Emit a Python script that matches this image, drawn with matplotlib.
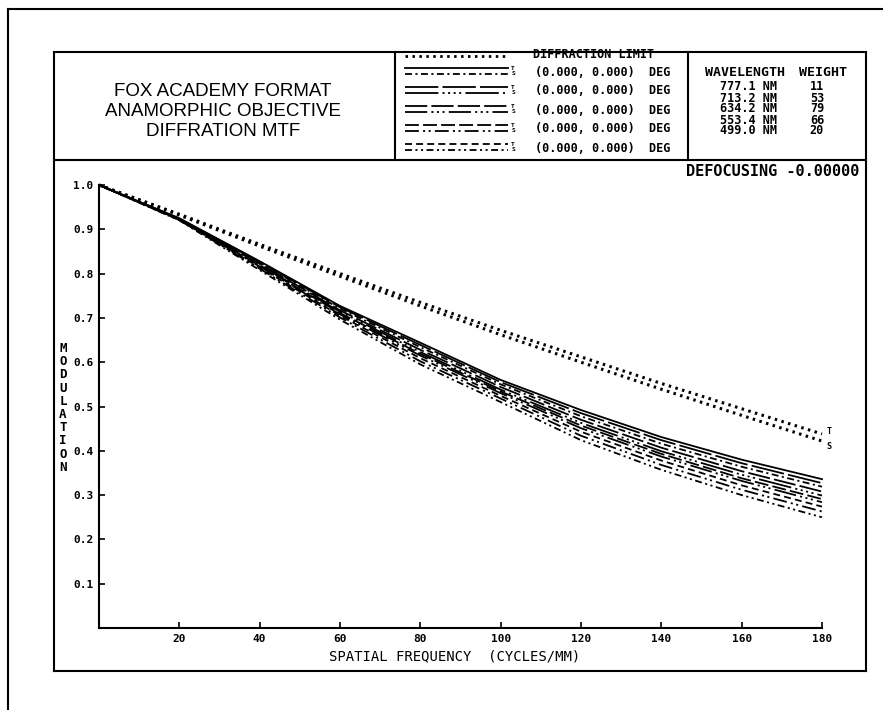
import matplotlib.pyplot as plt
from matplotlib.lines import Line2D

plt.rcParams['lines.scale_dashes'] = False
plt.rcParams['font.family'] = 'DejaVu Sans Mono'

# spatial frequency (cycles/mm)
freq = [0, 20, 40, 60, 80, 100, 120, 140, 160, 180]

# diffraction limit, tangential / sagittal
diff_t = [1.0, 0.934, 0.866, 0.800, 0.735, 0.672, 0.612, 0.552, 0.495, 0.438]
diff_s = [1.0, 0.932, 0.862, 0.794, 0.727, 0.662, 0.600, 0.539, 0.480, 0.422]

# five (0.000, 0.000) DEG entries, T and S
t1 = [1.0, 0.925, 0.828, 0.727, 0.644, 0.560, 0.492, 0.431, 0.380, 0.336]
s1 = [1.0, 0.924, 0.824, 0.721, 0.634, 0.550, 0.478, 0.416, 0.364, 0.319]
t2 = [1.0, 0.924, 0.826, 0.724, 0.639, 0.555, 0.485, 0.424, 0.372, 0.327]
s2 = [1.0, 0.923, 0.819, 0.714, 0.623, 0.538, 0.463, 0.399, 0.346, 0.299]
t3 = [1.0, 0.923, 0.822, 0.717, 0.628, 0.544, 0.470, 0.407, 0.354, 0.308]
s3 = [1.0, 0.922, 0.816, 0.708, 0.615, 0.530, 0.451, 0.387, 0.332, 0.284]
t4 = [1.0, 0.922, 0.818, 0.711, 0.619, 0.534, 0.457, 0.393, 0.338, 0.291]
s4 = [1.0, 0.921, 0.811, 0.701, 0.602, 0.518, 0.434, 0.368, 0.312, 0.263]
t5 = [1.0, 0.921, 0.814, 0.705, 0.609, 0.524, 0.443, 0.378, 0.322, 0.274]
s5 = [1.0, 0.920, 0.808, 0.696, 0.595, 0.510, 0.424, 0.357, 0.300, 0.250]

field_label = "(0.000, 0.000)  DEG"
wavelengths = ["777.1 NM", "713.2 NM", "634.2 NM", "553.4 NM", "499.0 NM"]
weights = ["11", "53", "79", "66", "20"]
title_lines = ["FOX ACADEMY FORMAT", "ANAMORPHIC OBJECTIVE", "DIFFRATION MTF"]

x_ticks = [20, 40, 60, 80, 100, 120, 140, 160, 180]
y_ticks = [0.1, 0.2, 0.3, 0.4, 0.5, 0.6, 0.7, 0.8, 0.9, 1.0]

# line styles for the five entries
dot = (0, (1.8, 3.2))
styles_t = ['-', (0, (24, 3)), (0, (16, 3)), (0, (10, 3)), (0, (5, 3))]
styles_s = [(0, (5, 2.5, 1.5, 2.5)),
            (0, (24, 3, 1.5, 2.5, 1.5, 2.5, 1.5, 2.5, 1.5, 3)),
            (0, (16, 3, 1.5, 2.5, 1.5, 2.5, 1.5, 3)),
            (0, (10, 3, 1.5, 2.5, 1.5, 3)),
            (0, (5, 2.5, 1.5, 2.5, 1.5, 2.5))]
curves_t = [t1, t2, t3, t4, t5]
curves_s = [s1, s2, s3, s4, s5]

W, H = 883, 710
fig = plt.figure(figsize=(W / 100, H / 100), dpi=100)

# main MTF axes
ax = fig.add_axes([99 / W, 1 - 628 / H, 723 / W, 443 / H])
ax.set_facecolor('none')
ax.plot(freq, diff_t, color='black', lw=2.2, linestyle=dot, clip_on=False)
ax.plot(freq, diff_s, color='black', lw=2.2, linestyle=dot, clip_on=False)
for i in range(5):
    ax.plot(freq, curves_t[i], color='black', lw=1.3, linestyle=styles_t[i], clip_on=False)
    ax.plot(freq, curves_s[i], color='black', lw=1.3, linestyle=styles_s[i], clip_on=False)

ax.annotate('T', (freq[-1], diff_t[-1]), xytext=(3, 2), textcoords='offset points',
            fontsize=6, fontweight='bold', va='center')
ax.annotate('S', (freq[-1], diff_s[-1]), xytext=(3, -4), textcoords='offset points',
            fontsize=6, fontweight='bold', va='center')

ax.set_xlim(0, 180)
ax.set_ylim(0, 1.0)
ax.spines['top'].set_visible(False)
ax.spines['right'].set_visible(False)
ax.spines['left'].set_linewidth(1.5)
ax.spines['bottom'].set_linewidth(1.5)
ax.set_xticks(x_ticks)
ax.set_xticklabels([str(v) for v in x_ticks])
ax.set_yticks(y_ticks)
ax.set_yticklabels([f"{v:.1f}" for v in y_ticks])
ax.tick_params(direction='in', length=4, width=1.2, labelsize=8, pad=4)
for lbl in ax.get_xticklabels() + ax.get_yticklabels():
    lbl.set_fontweight('bold')

# overlay in pixel coordinates for frames and header
ov = fig.add_axes([0, 0, 1, 1], zorder=-1)
ov.set_xlim(0, W)
ov.set_ylim(H, 0)
ov.axis('off')

def seg(x0, y0, x1, y1, lw=1.5, ls='-'):
    ov.add_line(Line2D([x0, x1], [y0, y1], color='black', lw=lw, linestyle=ls))

# outer frame
seg(8, 9, W, 9)
seg(8, 9, 8, H)
# inner box
seg(54, 52, 866, 52)
seg(54, 671, 866, 671)
seg(54, 52, 54, 671)
seg(866, 52, 866, 671)
# header
seg(54, 160, 866, 160)
seg(395, 52, 395, 160)
seg(688, 52, 688, 160)

# title
for k, line in enumerate(title_lines):
    ov.text(223, 92 + 20 * k, line, ha='center', va='center', fontsize=13.5,
            family='Liberation Sans')

# legend
ov.add_line(Line2D([405, 508], [56, 56], color='black', lw=2.0, linestyle=dot))
ov.text(533, 55, "DIFFRACTION LIMIT", ha='left', va='center', fontsize=8.5, fontweight='bold')
row_y = [72, 91, 110, 129, 148]
for i in range(5):
    y = row_y[i]
    seg(405, y - 4, 508, y - 4, lw=1.3, ls=styles_t[i])
    seg(405, y + 2, 508, y + 2, lw=1.3, ls=styles_s[i])
    ov.text(513, y - 1, 'T\nS', ha='center', va='center', fontsize=4.5, fontweight='bold',
            linespacing=0.95)
    ov.text(535, y, field_label, ha='left', va='center', fontsize=8.5, fontweight='bold')

# wavelength table
ov.text(705, 73, "WAVELENGTH", ha='left', va='center', fontsize=9.5, fontweight='bold')
ov.text(799, 73, "WEIGHT", ha='left', va='center', fontsize=9.5, fontweight='bold')
ov.text(720, 109, "\n".join(wavelengths), ha='left', va='center', fontsize=8.5,
        fontweight='bold', linespacing=0.8)
ov.text(817, 109, "\n".join(weights), ha='center', va='center', fontsize=8.5,
        fontweight='bold', linespacing=0.8)

ov.text(859, 172, "DEFOCUSING -0.00000", ha='right', va='center', fontsize=11, fontweight='bold')

# axis titles
ov.text(455, 656, "SPATIAL FREQUENCY  (CYCLES/MM)", ha='center', va='center', fontsize=10)
ov.text(63, 408, "\n".join("MODULATION"), ha='center', va='center', fontsize=9,
        linespacing=1.02, fontweight='bold')

fig.savefig('out.png', dpi=100)
